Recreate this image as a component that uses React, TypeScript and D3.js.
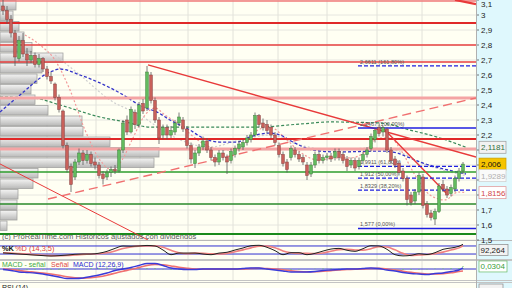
import React from 'react';
import * as d3 from 'd3';

const W = 512, H = 288;
const PLOT_R = 476;

// OHLC (daily candles)
const opens = [3.06,3.03,2.97,2.88,2.71,2.83,2.74,2.70,2.73,2.67,2.71,2.64,2.59,2.54,2.45,2.36,2.13,1.99,1.92,2.02,2.08,2.03,2.07,2.02,2.00,1.94,1.92,1.95,1.97,1.96,2.10,2.30,2.22,2.35,2.27,2.41,2.38,2.60,2.43,2.30,2.20,2.25,2.20,2.22,2.28,2.30,2.24,2.13,2.01,2.08,2.12,2.16,2.10,2.05,2.02,2.08,2.05,2.03,2.07,2.11,2.12,2.15,2.17,2.20,2.33,2.28,2.27,2.25,2.20,2.13,2.07,2.02,2.05,2.10,2.07,2.05,2.00,1.94,2.00,2.07,2.03,2.05,2.06,2.05,2.09,2.07,2.04,2.00,2.03,1.99,2.03,2.07,2.11,2.17,2.25,2.22,2.24,2.10,2.04,2.01,1.96,1.91,1.80,1.76,1.82,1.92,1.74,1.68,1.64,1.69,1.87,1.84,1.81,1.84,1.91,1.96];
const highs = [3.12,3.06,3.00,2.90,2.86,2.88,2.78,2.76,2.75,2.74,2.72,2.66,2.62,2.55,2.47,2.37,2.15,2.01,2.04,2.11,2.10,2.10,2.09,2.05,2.02,1.96,1.97,1.99,2.00,2.11,2.30,2.33,2.39,2.37,2.42,2.44,2.66,2.62,2.45,2.32,2.27,2.27,2.26,2.30,2.35,2.32,2.26,2.15,2.10,2.14,2.19,2.18,2.12,2.07,2.10,2.10,2.07,2.11,2.13,2.16,2.17,2.20,2.22,2.35,2.34,2.31,2.30,2.27,2.22,2.15,2.09,2.04,2.13,2.12,2.09,2.07,2.02,2.02,2.09,2.09,2.07,2.08,2.08,2.11,2.11,2.09,2.06,2.05,2.05,2.05,2.09,2.12,2.21,2.25,2.27,2.26,2.25,2.12,2.06,2.03,1.98,1.93,1.82,1.84,1.95,1.94,1.76,1.70,1.71,1.88,1.90,1.86,1.87,1.93,1.98,2.02];
const lows = [3.00,2.94,2.85,2.66,2.69,2.72,2.66,2.68,2.65,2.65,2.62,2.57,2.54,2.43,2.35,2.11,1.95,1.82,1.90,2.00,2.00,2.01,1.99,1.97,1.91,1.87,1.90,1.92,1.94,1.95,2.08,2.20,2.21,2.24,2.25,2.34,2.36,2.41,2.28,2.14,2.17,2.17,2.18,2.20,2.26,2.22,2.11,2.01,1.98,2.06,2.10,2.08,2.03,1.99,2.00,2.03,1.94,2.01,2.05,2.09,2.10,2.13,2.15,2.19,2.25,2.23,2.21,2.18,2.13,2.05,1.99,1.95,2.03,2.05,2.02,2.00,1.90,1.92,1.98,2.01,2.01,2.03,2.02,2.03,2.03,2.01,1.96,1.98,1.96,1.97,2.01,2.05,2.09,2.15,2.19,2.19,2.08,2.01,1.98,1.93,1.89,1.73,1.73,1.74,1.80,1.71,1.65,1.63,1.60,1.68,1.82,1.78,1.79,1.82,1.89,1.94];
const closes = [3.03,2.97,2.88,2.72,2.83,2.74,2.70,2.73,2.67,2.71,2.64,2.59,2.56,2.45,2.37,2.13,1.97,1.87,2.02,2.08,2.03,2.07,2.01,2.00,1.93,1.91,1.95,1.97,1.96,2.10,2.28,2.22,2.37,2.27,2.40,2.36,2.62,2.43,2.30,2.18,2.25,2.20,2.23,2.28,2.32,2.24,2.13,2.04,2.08,2.12,2.16,2.10,2.05,2.02,2.08,2.05,2.02,2.09,2.11,2.14,2.15,2.18,2.20,2.33,2.27,2.25,2.23,2.20,2.15,2.07,2.01,1.97,2.11,2.07,2.04,2.02,1.93,2.00,2.07,2.03,2.05,2.06,2.04,2.09,2.05,2.03,1.99,2.03,1.98,2.03,2.07,2.10,2.19,2.23,2.21,2.25,2.10,2.03,2.00,1.95,1.91,1.77,1.75,1.82,1.93,1.73,1.67,1.65,1.69,1.86,1.84,1.80,1.85,1.91,1.96,2.006];

// Axis ticks
const priceTicks = [3.1,3.0,2.9,2.8,2.7,2.6,2.5,2.4,2.3,2.2,2.1,2.0,1.9,1.8,1.7,1.6,1.5];
const monthGridIdx = [11, 23.25, 34.25, 46.25, 57.5, 68.75, 81, 93.5, 104.75];

// Volume-at-price profile
const profileTop = [3.10,3.03,2.96,2.89,2.82,2.75,2.68,2.61,2.54,2.47,2.40,2.33,2.26,2.19,2.12,2.05,1.98,1.91,1.84,1.77,1.70,1.63];
const profileVol = [16,13,19,24,32,63,42,37,31,35,48,82,83,110,159,154,38,33,18,17,17,7];
const profileBin = 0.07;

// Horizontal support / resistance levels
const redLevels = [3.093, 2.947, 2.80, 2.687, 2.447, 2.173, 2.107];
const greenLevels = [1.953, 1.74, 1.54];

// Moving averages: [candle index, price]
const maBlue = [[-0.75,2.353],[4.25,2.467],[11.75,2.62],[14.25,2.64],[19.25,2.60],[24.25,2.547],[29.25,2.48],[35,2.387],[38.5,2.353],[41.75,2.30],[46.75,2.233],[50,2.18],[54.25,2.153],[58.5,2.153],[61,2.18],[66.75,2.213],[69.25,2.20],[72.5,2.153],[77.5,2.10],[83.5,2.087],[95,2.093],[98.5,2.08],[101.75,2.047],[105,2.013],[109.25,1.98],[113.5,1.953],[115.75,1.94]];
const maGreen = [[-0.75,2.453],[7.5,2.447],[14.25,2.40],[24.25,2.32],[30.5,2.287],[36.75,2.253],[49.25,2.253],[63.5,2.253],[74.25,2.273],[81.75,2.287],[94.25,2.28],[101.75,2.233],[109.25,2.18],[115.75,2.1181]];
const maPink = [[5.5,2.867],[9.25,2.80],[13,2.70],[16.75,2.50],[20.5,2.233],[24.25,2.033],[27.25,1.967],[29.75,2.033],[32.25,2.167],[35.5,2.333],[38,2.38],[40.5,2.333],[44.25,2.267],[48,2.18],[51.75,2.12],[56.75,2.10],[60.5,2.147],[63.75,2.233],[66.75,2.253],[70.5,2.18],[74.25,2.087],[78.75,2.033],[83,2.047],[86.75,2.047],[90.5,2.087],[93.75,2.18],[96.75,2.18],[99.75,2.087],[103,1.933],[106.75,1.80],[110.5,1.767],[113.75,1.82],[115.75,1.8156]];
const maGray = [[13,2.733],[19.25,2.60],[26.75,2.433],[34.25,2.333],[41.75,2.20],[51.75,2.12],[59.25,2.167],[66.75,2.20],[74.25,2.133],[81.75,2.10],[91.75,2.113],[97.75,2.10],[104,2.02],[111.75,1.953],[115.75,1.9289]];

// Trend lines: [idx1, price1, idx2, price2]
const trendSolid = [[36.25,2.667,118.25,2.053],[94.75,2.253,111.25,1.80],[-0.75,2.007,36.25,1.50],[113,3.10,118.25,3.073]];
const trendDashed = [[11.25,1.773,118.25,2.447]];

// Fibonacci retracement
const fibLevels = [2.6611, 2.2467, 1.9911, 1.912, 1.8329, 1.577];
const fibLabels = ['2,6611 (161,80%)','2,2467 (100,00%)','1,9911 (61,80%)','1,912 (50,00%)','1,8329 (38,20%)','1,577 (0,00%)'];
const fibSolid = [false, true, false, false, false, true];
const fibStartIdx = 88.75;

// Stochastic %K %D (14,3,5), sampled every 2 candles
const stochK = [28,24,20,16,12,8,5,8,12,18,20,20,26,40,62,80,78,80,84,80,50,15,27,27,27,20,15,27,33,50,65,82,85,70,45,15,30,30,15,25,42,57,62,48,40,60,82,80,55,15,6,10,22,16,30,55,65,78,92.264];
const stochD = [30,27,23,19,15,11,8,7,9,13,17,20,22,29,43,61,73,79,81,81,70,48,30,23,27,25,21,21,25,37,51,66,78,79,67,43,30,25,25,23,28,41,53,56,50,49,60,74,72,51,25,10,13,16,23,34,50,66,82];

// MACD (12,26,9), sampled every 2 candles
const macd = [-0.005,-0.015,-0.03,-0.035,-0.04,-0.05,-0.065,-0.08,-0.095,-0.095,-0.09,-0.075,-0.06,-0.04,-0.015,0.0,0.015,0.035,0.055,0.055,0.035,0.01,0.0,-0.005,-0.005,0.0,0.0,0.0,0.0,0.0,0.005,0.01,0.01,0.0,-0.01,-0.02,-0.03,-0.03,-0.03,-0.025,-0.015,-0.01,-0.005,0.0,0.0,0.005,0.01,0.005,-0.01,-0.02,-0.035,-0.045,-0.05,-0.055,-0.045,-0.04,-0.025,-0.01,0.0104];
const signal = [0.0,-0.005,-0.015,-0.025,-0.032,-0.04,-0.05,-0.062,-0.078,-0.088,-0.092,-0.088,-0.078,-0.062,-0.042,-0.022,-0.005,0.015,0.035,0.045,0.042,0.03,0.018,0.008,0.0,-0.003,-0.002,0.0,0.0,0.0,0.0,0.005,0.008,0.005,0.0,-0.008,-0.018,-0.025,-0.028,-0.028,-0.022,-0.016,-0.01,-0.005,-0.002,0.0,0.005,0.006,0.0,-0.01,-0.022,-0.033,-0.042,-0.05,-0.05,-0.046,-0.038,-0.025,-0.02];

// Value tags on the right axis
const tagValues = [2.1181, 2.006, 1.9289, 1.8156];
const tagFill = ['#f2f2f2', '#f5c400', '#fafafa', '#ffffff'];
const tagStroke = ['#9a9a9a', '#c89a00', '#cccccc', '#e09090'];
const tagText = ['#2f6f3f', '#111111', '#b0b0b0', '#d04848'];

const fmt = (v: number) => d3.format('~g')(+v.toFixed(4)).replace('.', ',');

export default function App() {
  const N = closes.length;
  const xs = d3.scaleLinear().domain([0, N - 1]).range([3, 463]);
  const ys = d3.scaleLinear().domain([1.5, 3.1]).range([240, 0]);
  const xv = d3.scaleLinear().domain([0, 160]).range([0, 160]);
  const yK = d3.scaleLinear().domain([0, 100]).range([256.7, 243.3]);
  const yM = d3.scaleLinear().domain([-0.12, 0.08]).range([281, 261]);
  const indIdx = (j: number) => Math.min(j * 2, N - 1);

  const maLine = d3.line<number[]>().x(d => xs(d[0])).y(d => ys(d[1])).curve(d3.curveMonotoneX);
  const kLine = d3.line<number>().x((_, j) => xs(indIdx(j))).y(d => yK(d)).curve(d3.curveMonotoneX);
  const mLine = d3.line<number>().x((_, j) => xs(indIdx(j))).y(d => yM(d)).curve(d3.curveMonotoneX);

  const font = 'Liberation Sans, Arial, sans-serif';
  const redStyles = [
    { c: '#f07a7a', w: 1.5 }, { c: '#e02828', w: 2 }, { c: '#e84040', w: 1.5 }, { c: '#e84040', w: 1.5 },
    { c: '#f4a4a4', w: 3 }, { c: '#e02828', w: 2 }, { c: '#f4a4a4', w: 3 },
  ];
  const greenStyles = [{ c: '#2e9e2e', w: 1.5 }, { c: '#2a8a2a', w: 1.5 }, { c: '#1a8a1a', w: 2 }];
  const visibleTicks = priceTicks.filter(t => tagValues.every(v => Math.abs(ys(t) - ys(v)) > 7));
  const lastHist = macd[macd.length - 1] - signal[signal.length - 1];

  return (
    <svg width={W} height={H} style={{ position: 'absolute', left: 0, top: 0, background: '#fffff3' }}>
      <defs>
        <linearGradient id="volg" x1="0" y1="0" x2="0" y2="1">
          <stop offset="0%" stopColor="#f4f4f4" />
          <stop offset="45%" stopColor="#d8d8d8" />
          <stop offset="100%" stopColor="#b4b4b4" />
        </linearGradient>
        <clipPath id="cMain"><rect x={0} y={0} width={PLOT_R} height={240} /></clipPath>
        <clipPath id="cK"><rect x={0} y={241} width={PLOT_R} height={18} /></clipPath>
        <clipPath id="cM"><rect x={0} y={261} width={PLOT_R} height={19} /></clipPath>
      </defs>

      {/* right axis background */}
      <rect x={PLOT_R} y={0} width={W - PLOT_R} height={H} fill="#dff8fd" />

      {/* main panel */}
      <g clipPath="url(#cMain)">
        {priceTicks.map((t, i) => (
          <line key={'hg' + i} x1={0} x2={PLOT_R} y1={ys(t)} y2={ys(t)} stroke="#e6e6e0" strokeWidth={1} />
        ))}
        {monthGridIdx.map((m, i) => (
          <line key={'vg' + i} x1={xs(m)} x2={xs(m)} y1={0} y2={240} stroke="#e2e2da" strokeWidth={1} />
        ))}
        {profileTop.map((p, i) => (
          <rect key={'pv' + i} x={0} y={ys(p) + 0.5} width={xv(profileVol[i])} height={ys(p - profileBin) - ys(p) - 1}
            fill="url(#volg)" stroke="#9c9c9c" strokeWidth={0.8} opacity={0.92} />
        ))}
        <path d={maLine(maGray) || ''} fill="none" stroke="#cfcfcf" strokeWidth={1.2} strokeDasharray="2,2" />
        <path d={maLine(maPink) || ''} fill="none" stroke="#f29a9a" strokeWidth={1.2} strokeDasharray="2,2" />
        <path d={maLine(maGreen) || ''} fill="none" stroke="#3a8a5a" strokeWidth={1.2} strokeDasharray="3,2" />
        <path d={maLine(maBlue) || ''} fill="none" stroke="#3434c8" strokeWidth={1.3} strokeDasharray="3,2" />
        {redLevels.map((p, i) => (
          <line key={'rl' + i} x1={0} x2={PLOT_R} y1={ys(p)} y2={ys(p)} stroke={redStyles[i].c} strokeWidth={redStyles[i].w} />
        ))}
        {greenLevels.map((p, i) => (
          <line key={'gl' + i} x1={0} x2={PLOT_R} y1={ys(p)} y2={ys(p)} stroke={greenStyles[i].c} strokeWidth={greenStyles[i].w} />
        ))}
        {trendSolid.map((t, i) => (
          <line key={'ts' + i} x1={xs(t[0])} y1={ys(t[1])} x2={xs(t[2])} y2={ys(t[3])} stroke="#e83a3a" strokeWidth={i === 3 ? 2.2 : i === 2 ? 1 : 1.4} />
        ))}
        {trendDashed.map((t, i) => (
          <line key={'td' + i} x1={xs(t[0])} y1={ys(t[1])} x2={xs(t[2])} y2={ys(t[3])} stroke="#f07070" strokeWidth={1.4} strokeDasharray="9,5" />
        ))}
        {fibLevels.map((p, i) => (
          <g key={'fb' + i}>
            <line x1={xs(fibStartIdx)} x2={PLOT_R} y1={ys(p)} y2={ys(p)} stroke="#1f1fe0"
              strokeWidth={fibSolid[i] ? 1.5 : 1.2} strokeDasharray={fibSolid[i] ? undefined : '4,2'} />
            <text x={xs(fibStartIdx) + 2} y={ys(p) - 2} fontSize={5.6} fontFamily={font} fill="#555">{fibLabels[i]}</text>
          </g>
        ))}
        {closes.map((c, i) => {
          const o = opens[i];
          const up = c >= o;
          const yTop = ys(Math.max(o, c));
          const hgt = Math.max(1, Math.abs(ys(o) - ys(c)));
          return (
            <g key={'cd' + i}>
              <line x1={xs(i)} x2={xs(i)} y1={ys(highs[i])} y2={ys(lows[i])} stroke="#5a5a5a" strokeWidth={0.8} />
              <rect x={xs(i) - 1.4} y={yTop} width={2.8} height={hgt}
                fill={up ? '#62bb5e' : '#c8605a'} stroke={up ? '#3f7f3f' : '#874040'} strokeWidth={0.5} />
            </g>
          );
        })}
        <text x={2} y={238.5} fontSize={7.6} fontFamily={font} fill="#5a5a5a">(c) ProRealTime.com  Históricos ajustados con dividendos</text>
      </g>
      <line x1={0} x2={W} y1={240.5} y2={240.5} stroke="#b8b8b8" strokeWidth={1} />

      {/* right axis price labels */}
      {priceTicks.map((t, i) => (
        <line key={'pk' + i} x1={PLOT_R} x2={PLOT_R + 3} y1={ys(t)} y2={ys(t)} stroke="#555" strokeWidth={0.8} />
      ))}
      {visibleTicks.map((t, i) => (
        <text key={'pt' + i} x={PLOT_R + 5} y={Math.max(ys(t) + 3, 6.5)} fontSize={8} fontFamily={font} fill="#222">{fmt(t)}</text>
      ))}
      {tagValues.map((v, i) => (
        <g key={'tg' + i}>
          <rect x={PLOT_R + 3} y={ys(v) - 6} width={27} height={12} fill={tagFill[i]} stroke={tagStroke[i]} strokeWidth={0.7} />
          <text x={PLOT_R + 5} y={ys(v) + 3} fontSize={8} fontFamily={font} fill={tagText[i]}>{fmt(v)}</text>
        </g>
      ))}

      {/* stochastic panel */}
      <g clipPath="url(#cK)">
        {monthGridIdx.map((m, i) => (
          <line key={'kg' + i} x1={xs(m)} x2={xs(m)} y1={241} y2={259} stroke="#e2e2da" />
        ))}
        <line x1={0} x2={PLOT_R} y1={yK(80)} y2={yK(80)} stroke="#3030d0" strokeWidth={1} />
        <line x1={0} x2={PLOT_R} y1={yK(20)} y2={yK(20)} stroke="#3030d0" strokeWidth={1} />
        <path d={kLine(stochD) || ''} fill="none" stroke="#f08080" strokeWidth={1.6} />
        <path d={kLine(stochK) || ''} fill="none" stroke="#222" strokeWidth={1} />
        <text x={2} y={251} fontSize={7.4} fontFamily={font} fill="#111" fontWeight="bold">%K</text>
        <text x={15} y={251} fontSize={7.4} fontFamily={font} fill="#e04040">%D (14,3,5)</text>
      </g>
      <line x1={0} x2={W} y1={259.5} y2={259.5} stroke="#c4c4c4" />
      <line x1={0} x2={W} y1={260.5} y2={260.5} stroke="#c4c4c4" />
      <rect x={PLOT_R + 3} y={244.5} width={29} height={11} fill="#f2f2f2" stroke="#888" strokeWidth={0.7} />
      <text x={PLOT_R + 4.5} y={253} fontSize={8} fontFamily={font} fill="#222">{fmt(stochK[stochK.length - 1])}</text>

      {/* MACD panel */}
      <g clipPath="url(#cM)">
        {monthGridIdx.map((m, i) => (
          <line key={'mg' + i} x1={xs(m)} x2={xs(m)} y1={261} y2={280} stroke="#e2e2da" />
        ))}
        <line x1={0} x2={PLOT_R} y1={yM(0)} y2={yM(0)} stroke="#3030d0" strokeWidth={1} />
        {macd.map((v, j) => (
          <line key={'mh' + j} x1={xs(indIdx(j))} x2={xs(indIdx(j))} y1={yM(0)} y2={yM(v - signal[j])}
            stroke="#66cc55" strokeWidth={1} strokeDasharray="1,1" />
        ))}
        <path d={mLine(signal) || ''} fill="none" stroke="#f07070" strokeWidth={1.6} />
        <path d={mLine(macd) || ''} fill="none" stroke="#3a3ad8" strokeWidth={1.4} />
        <text x={2} y={266.5} fontSize={7} fontFamily={font} fill="#44aa44">MACD - señal</text>
        <text x={51} y={266.5} fontSize={7} fontFamily={font} fill="#e04848">Señal</text>
        <text x={73} y={266.5} fontSize={7} fontFamily={font} fill="#2a2ad0">MACD (12,26,9)</text>
      </g>
      <line x1={0} x2={W} y1={280.5} y2={280.5} stroke="#c4c4c4" />
      <line x1={0} x2={W} y1={282.5} y2={282.5} stroke="#c4c4c4" />
      <rect x={PLOT_R + 3} y={yM(lastHist) - 5} width={28} height={11} fill="#ffffff" stroke="#66bb66" strokeWidth={0.7} />
      <text x={PLOT_R + 4.5} y={yM(lastHist) + 3.5} fontSize={8} fontFamily={font} fill="#3aa03a">{fmt(lastHist)}</text>

      {/* RSI panel (cut off at the bottom edge, as in the original) */}
      <text x={2} y={290} fontSize={7} fontFamily={font} fill="#222">RSI (14)</text>
      <rect x={PLOT_R + 3} y={284} width={24} height={11} fill="#f2f2f2" stroke="#888" strokeWidth={0.7} />

      <line x1={PLOT_R + 0.5} x2={PLOT_R + 0.5} y1={0} y2={H} stroke="#b0b0b0" />
    </svg>
  );
}
